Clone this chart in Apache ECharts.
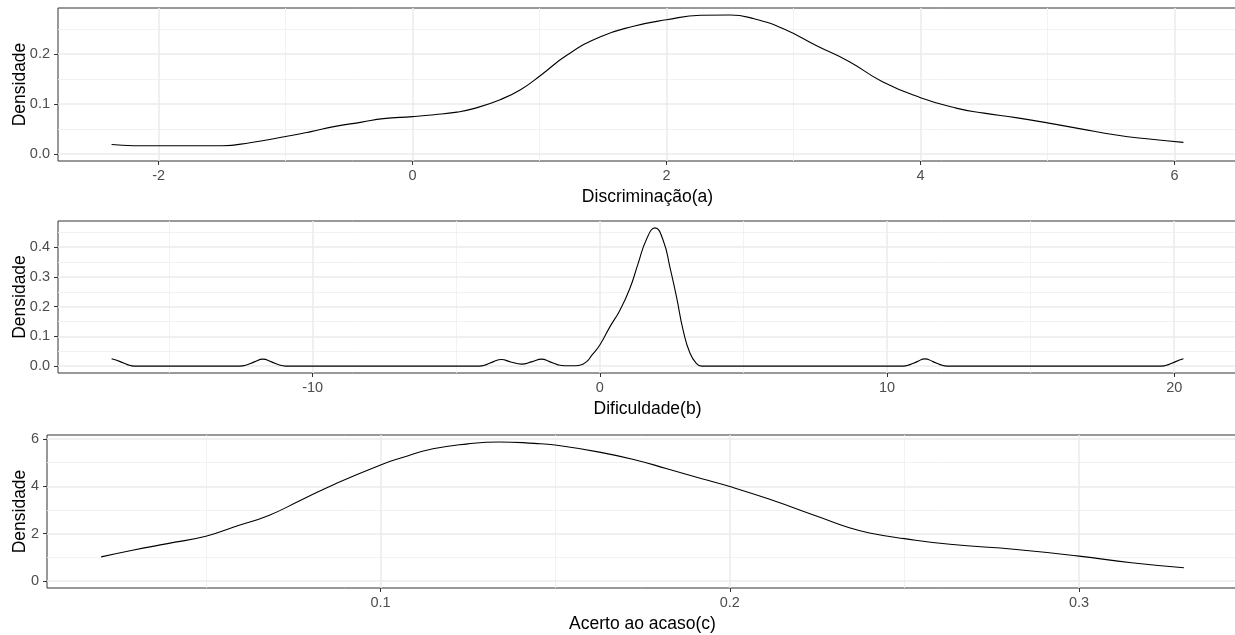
<!DOCTYPE html>
<html>
<head>
<meta charset="utf-8">
<script src="https://cdn.jsdelivr.net/npm/echarts@6/dist/echarts.min.js"></script>
<style>
html,body{margin:0;padding:0;background:#fff;}
#chart{width:1235px;height:635px;}
</style>
</head>
<body>
<div id="chart"></div>
<script>
// ---- Panel 1: Discriminação(a)
const discX = [-2.37, -2.2, -2.0, -1.8, -1.5, -1.28, -1.0, -0.8, -0.62, -0.4, -0.23, 0.0, 0.17, 0.35, 0.48, 0.69, 0.85, 1.01, 1.22, 1.48, 1.74, 2.0, 2.27, 2.5, 2.69, 2.92, 3.19, 3.44, 3.70, 4.0, 4.28, 4.5, 4.75, 5.01, 5.25, 5.54, 5.8, 6.07];
const discY = [0.019, 0.0167, 0.0165, 0.0165, 0.0167, 0.0227, 0.035, 0.045, 0.055, 0.064, 0.071, 0.075, 0.0787, 0.084, 0.091, 0.109, 0.129, 0.158, 0.199, 0.235, 0.256, 0.269, 0.278, 0.2787, 0.271, 0.251, 0.216, 0.185, 0.145, 0.113, 0.092, 0.082, 0.073, 0.062, 0.051, 0.038, 0.030, 0.0233];
const discXMajor = [-2, 0, 2, 4, 6];
const discXMinor = [-1, 1, 3, 5];
const discYMajor = [0, 0.1, 0.2];
const discYMinor = [0.05, 0.15, 0.25];

// ---- Panel 2: Dificuldade(b)
const difX = [-17.0, -16.7, -16.45, -16.2, -12.55, -12.28, -12.03, -11.73, -11.43, -11.18, -10.95,
  -4.2, -3.95, -3.7, -3.43, -3.1, -2.73, -2.35, -2.03, -1.75, -1.48, -1.22, -0.95, -0.70, -0.46, -0.29, 0.0, 0.35, 0.70, 1.045, 1.33, 1.63, 1.92, 2.21, 2.44, 2.67, 2.90, 3.14, 3.37, 3.54,
  10.55, 10.8, 11.05, 11.32, 11.6, 11.85, 12.1, 19.55, 19.8, 20.05, 20.32];
const difY = [0.0244, 0.015, 0.005, 0, 0, 0.0044, 0.0142, 0.0234, 0.0142, 0.0044, 0,
  0, 0.005, 0.015, 0.022, 0.014, 0.0067, 0.015, 0.0234, 0.015, 0.005, 0.001, 0.001, 0.003, 0.015, 0.035, 0.071, 0.132, 0.188, 0.261, 0.344, 0.428, 0.465, 0.422, 0.333, 0.233, 0.121, 0.043, 0.008, 0,
  0, 0.005, 0.015, 0.0244, 0.015, 0.005, 0, 0, 0.005, 0.015, 0.0244];
const difXMajor = [-10, 0, 10, 20];
const difXMinor = [-15, -5, 5, 15];
const difYMajor = [0, 0.1, 0.2, 0.3, 0.4];
const difYMinor = [0.05, 0.15, 0.25, 0.35, 0.45];

// ---- Panel 3: Acerto ao acaso(c)
const acX = [0.02, 0.029, 0.039, 0.05, 0.058, 0.068, 0.077, 0.087, 0.1, 0.106, 0.115, 0.125, 0.134, 0.144, 0.15, 0.163, 0.173, 0.182, 0.192, 0.2, 0.211, 0.226, 0.234, 0.24, 0.25, 0.263, 0.282, 0.3, 0.315, 0.33];
const acY = [1.02, 1.30, 1.58, 1.89, 2.28, 2.77, 3.40, 4.10, 4.90, 5.20, 5.58, 5.79, 5.87, 5.81, 5.74, 5.43, 5.11, 4.74, 4.32, 3.99, 3.47, 2.68, 2.26, 2.03, 1.79, 1.55, 1.33, 1.05, 0.77, 0.56];
const acXMajor = [0.1, 0.2, 0.3];
const acXMinor = [0.05, 0.15, 0.25];
const acYMajor = [0, 2, 4, 6];
const acYMinor = [1, 3, 5];

const xTitles = ['Discriminação(a)', 'Dificuldade(b)', 'Acerto ao acaso(c)'];
const yTitle = 'Densidade';

const FONT = '"Liberation Sans", Arial, sans-serif';
const panels = [
  {x: discX, y: discY, xMaj: discXMajor, xMin: discXMinor, yMaj: discYMajor, yMin: discYMinor, fmtY: v => v.toFixed(1), fmtX: v => String(v),
   grid: {left: 58, top: 8, width: 1179, height: 153}, yGap: 29},
  {x: difX, y: difY, xMaj: difXMajor, xMin: difXMinor, yMaj: difYMajor, yMin: difYMinor, fmtY: v => v.toFixed(1), fmtX: v => String(v),
   grid: {left: 58, top: 221, width: 1179, height: 152}, yGap: 29},
  {x: acX, y: acY, xMaj: acXMajor, xMin: acXMinor, yMaj: acYMajor, yMin: acYMinor, fmtY: v => String(v), fmtX: v => String(v),
   grid: {left: 47, top: 435, width: 1191, height: 153}, yGap: 18}
];

function expand(lo, hi) { const s = hi - lo; return [lo - 0.05 * s, hi + 0.05 * s]; }

const grids = [], xAxes = [], yAxes = [], series = [];
panels.forEach((p, i) => {
  grids.push(Object.assign({show: true, borderColor: '#333', borderWidth: 1, backgroundColor: 'transparent', containLabel: false, outerBoundsMode: 'none'}, p.grid));
  const xr = expand(Math.min(...p.x), Math.max(...p.x));
  const yr = expand(0, Math.max(...p.y));
  xAxes.push({
    type: 'value', gridIndex: i, min: xr[0], max: xr[1], position: 'bottom',
    name: xTitles[i], nameLocation: 'middle', nameGap: 27, nameMoveOverlap: false,
    nameTextStyle: {color: '#000', fontSize: 17.5, fontFamily: FONT},
    axisLine: {show: false, onZero: false},
    axisTick: {show: true, length: 4, customValues: p.xMaj, lineStyle: {color: '#333', width: 1}},
    axisLabel: {show: true, customValues: p.xMaj, formatter: p.fmtX, color: '#4D4D4D', fontSize: 14.5, fontFamily: FONT, margin: 7},
    splitLine: {show: true, lineStyle: {color: '#EBEBEB', width: 1.5}},
    z: 1
  });
  xAxes.push({
    type: 'value', gridIndex: i, min: xr[0], max: xr[1], position: 'top',
    axisLine: {show: false, onZero: false}, axisLabel: {show: false},
    axisTick: {show: false, customValues: p.xMin},
    splitLine: {show: true, lineStyle: {color: '#F0F0F0', width: 0.9}},
    z: 0
  });
  yAxes.push({
    type: 'value', gridIndex: i, min: yr[0], max: yr[1], position: 'left',
    name: yTitle, nameLocation: 'middle', nameGap: p.yGap, nameMoveOverlap: false,
    nameTextStyle: {color: '#000', fontSize: 17.5, fontFamily: FONT},
    axisLine: {show: false, onZero: false},
    axisTick: {show: true, length: 4, customValues: p.yMaj, lineStyle: {color: '#333', width: 1}},
    axisLabel: {show: true, customValues: p.yMaj, formatter: p.fmtY, color: '#4D4D4D', fontSize: 14.5, fontFamily: FONT, margin: 8},
    splitLine: {show: true, lineStyle: {color: '#EBEBEB', width: 1.5}},
    z: 1
  });
  yAxes.push({
    type: 'value', gridIndex: i, min: yr[0], max: yr[1], position: 'right',
    axisLine: {show: false, onZero: false}, axisLabel: {show: false},
    axisTick: {show: false, customValues: p.yMin},
    splitLine: {show: true, lineStyle: {color: '#F0F0F0', width: 0.9}},
    z: 0
  });
  series.push({
    type: 'line', xAxisIndex: 2 * i, yAxisIndex: 2 * i,
    data: p.x.map((v, k) => [v, p.y[k]]),
    showSymbol: false, symbol: 'none', smooth: 0.5,
    lineStyle: {color: '#000', width: 1.1},
    animation: false, silent: true, z: 5
  });
});

const chart = echarts.init(document.getElementById('chart'), null, {renderer: 'canvas'});
chart.setOption({
  animation: false,
  backgroundColor: '#fff',
  grid: grids,
  xAxis: xAxes,
  yAxis: yAxes,
  series: series
});
</script>
</body>
</html>
